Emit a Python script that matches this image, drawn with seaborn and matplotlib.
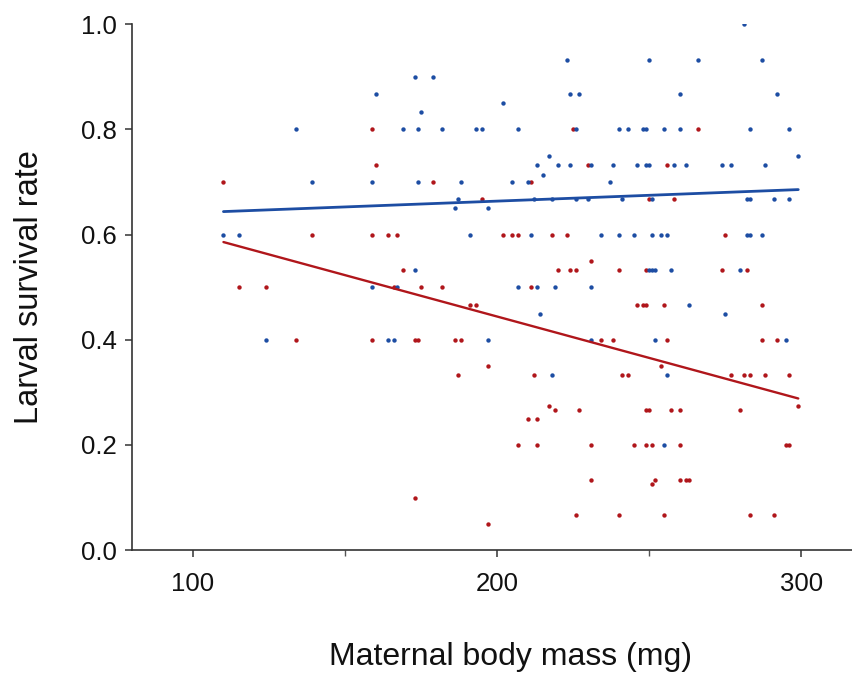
import pandas as pd
import seaborn as sns
import matplotlib.pyplot as plt
from matplotlib.ticker import MultipleLocator

# Blue group: maternal body mass (mg) and larval survival rate
blue_mass = [134, 139, 110, 115, 124,
             223, 173, 179, 160, 224, 227, 202, 175,
             169, 174, 182, 193, 195, 207, 226,
             213, 220, 224, 231,
             217, 215,
             159, 174, 188, 205, 210, 237,
             187, 212, 218, 226, 230,
             186, 197,
             191, 211, 234,
             173,
             159, 167, 207, 213, 219, 231,
             214,
             164, 166, 197, 231,
             218,
             281,
             250, 266, 287,
             260, 292,
             240, 243, 248, 249, 255, 260, 283, 296,
             299,
             238, 246, 249, 250, 258, 262, 274, 277, 288,
             241, 251, 282, 283, 291, 296,
             240, 245, 251, 254, 256, 282, 283, 287,
             250, 251, 252, 257, 280,
             263, 275,
             252, 295,
             256,
             255]
blue_surv = [0.8, 0.7, 0.6, 0.6, 0.4,
             0.933, 0.9, 0.9, 0.867, 0.867, 0.867, 0.85, 0.833,
             0.8, 0.8, 0.8, 0.8, 0.8, 0.8, 0.8,
             0.733, 0.733, 0.733, 0.733,
             0.75, 0.714,
             0.7, 0.7, 0.7, 0.7, 0.7, 0.7,
             0.667, 0.667, 0.667, 0.667, 0.667,
             0.65, 0.65,
             0.6, 0.6, 0.6,
             0.533,
             0.5, 0.5, 0.5, 0.5, 0.5, 0.5,
             0.45,
             0.4, 0.4, 0.4, 0.4,
             0.333,
             1.0,
             0.933, 0.933, 0.933,
             0.867, 0.867,
             0.8, 0.8, 0.8, 0.8, 0.8, 0.8, 0.8, 0.8,
             0.75,
             0.733, 0.733, 0.733, 0.733, 0.733, 0.733, 0.733, 0.733, 0.733,
             0.667, 0.667, 0.667, 0.667, 0.667, 0.667,
             0.6, 0.6, 0.6, 0.6, 0.6, 0.6, 0.6, 0.6,
             0.533, 0.533, 0.533, 0.533, 0.533,
             0.467, 0.45,
             0.4, 0.4,
             0.333,
             0.2]

# Red group
red_mass = [110, 139, 115, 124, 134,
            159, 225, 266,
            160, 230, 256,
            179, 211,
            195, 250, 258,
            159, 164, 167, 202, 205, 207, 218, 223, 275,
            231,
            169, 220, 224, 226, 240, 249, 274, 282,
            166, 175, 182, 211,
            191, 193, 246, 248, 249, 255, 287,
            159, 173, 174, 186, 188, 234, 238, 256, 287, 292,
            197, 254,
            187, 212, 241, 243, 277, 281, 283, 288, 296,
            217, 299,
            219, 227, 249, 250, 257, 260, 280,
            210, 213,
            207, 213, 231, 245, 249, 251, 260, 295, 296,
            231, 252, 260, 262, 263,
            251,
            173,
            226, 240, 255, 283, 291,
            197]
red_surv = [0.7, 0.6, 0.5, 0.5, 0.4,
            0.8, 0.8, 0.8,
            0.733, 0.733, 0.733,
            0.7, 0.7,
            0.667, 0.667, 0.667,
            0.6, 0.6, 0.6, 0.6, 0.6, 0.6, 0.6, 0.6, 0.6,
            0.55,
            0.533, 0.533, 0.533, 0.533, 0.533, 0.533, 0.533, 0.533,
            0.5, 0.5, 0.5, 0.5,
            0.467, 0.467, 0.467, 0.467, 0.467, 0.467, 0.467,
            0.4, 0.4, 0.4, 0.4, 0.4, 0.4, 0.4, 0.4, 0.4, 0.4,
            0.35, 0.35,
            0.333, 0.333, 0.333, 0.333, 0.333, 0.333, 0.333, 0.333, 0.333,
            0.275, 0.275,
            0.267, 0.267, 0.267, 0.267, 0.267, 0.267, 0.267,
            0.25, 0.25,
            0.2, 0.2, 0.2, 0.2, 0.2, 0.2, 0.2, 0.2, 0.2,
            0.133, 0.133, 0.133, 0.133, 0.133,
            0.125,
            0.1,
            0.067, 0.067, 0.067, 0.067, 0.067,
            0.05]

blue = pd.DataFrame({"mass": blue_mass, "surv": blue_surv})
red = pd.DataFrame({"mass": red_mass, "surv": red_surv})

sns.set_style("ticks")
plt.rcParams['font.family'] = ['Liberation Sans', 'DejaVu Sans']

fig = plt.figure(figsize=(8.53, 6.75), dpi=100)
ax = fig.add_axes([0.155, 0.185, 0.845, 0.779])

sns.regplot(x="mass", y="surv", data=red, ax=ax, ci=None, color="#B0161B",
            scatter_kws={"s": 10, "linewidths": 0, "alpha": 1},
            line_kws={"lw": 1.7})
sns.regplot(x="mass", y="surv", data=blue, ax=ax, ci=None, color="#1D4DA3",
            scatter_kws={"s": 10, "linewidths": 0, "alpha": 1},
            line_kws={"lw": 2.0})

ax.set_xlim(80, 317)
ax.set_ylim(0, 1.0)
ax.set_xticks([100, 200, 300])
ax.xaxis.set_minor_locator(MultipleLocator(50))
ax.set_yticks([0.0, 0.2, 0.4, 0.6, 0.8, 1.0])
ax.set_yticklabels(["0.0", "0.2", "0.4", "0.6", "0.8", "1.0"])

ax.tick_params(axis='both', which='major', direction='out', length=5, width=1.1,
               color='#333333', labelsize=18.5, labelcolor='#111111')
ax.tick_params(axis='y', pad=6)
ax.tick_params(axis='x', pad=11)
ax.tick_params(axis='x', which='minor', direction='out', length=4, width=1.0,
               color='#555555')

for side in ['top', 'right']:
    ax.spines[side].set_visible(False)
for side in ['left', 'bottom']:
    ax.spines[side].set_color('#333333')
    ax.spines[side].set_linewidth(1.2)

ax.set_xlabel("Maternal body mass (mg)", fontsize=23, color='#111111')
ax.xaxis.set_label_coords(0.525, -0.175)
ax.set_ylabel("Larval survival rate", fontsize=23.5, labelpad=26, color='#111111')

fig.savefig("out.png", dpi=100)
